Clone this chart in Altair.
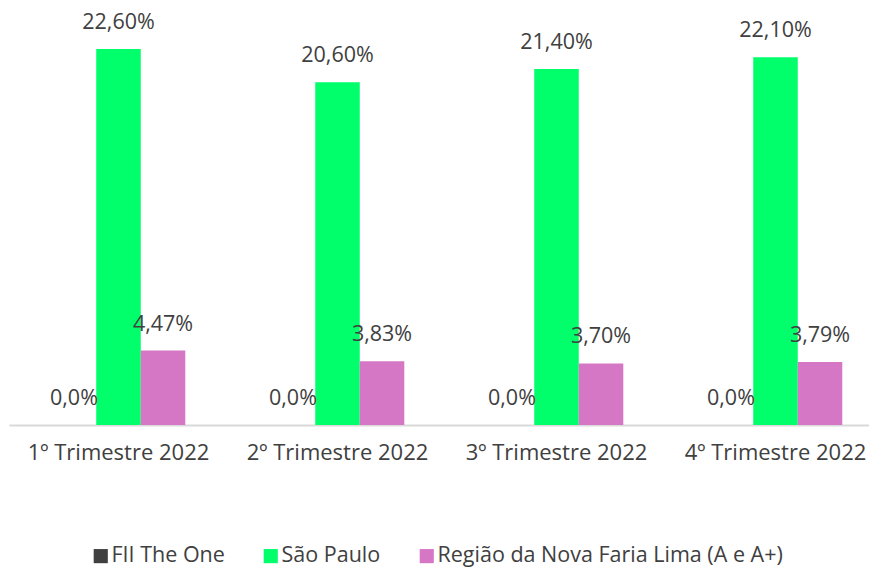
import altair as alt
import pandas as pd

quarters = ["1º Trimestre 2022", "2º Trimestre 2022", "3º Trimestre 2022", "4º Trimestre 2022"]
series = ["FII The One", "São Paulo", "Região da Nova Faria Lima (A e A+)"]
colors = ["#404040", "#00FF6B", "#D677C6"]
fii = [0.0, 0.0, 0.0, 0.0]
sp = [22.60, 20.60, 21.40, 22.10]
nfl = [4.47, 3.83, 3.70, 3.79]
fii_lbl = ["0,0%", "0,0%", "0,0%", "0,0%"]
sp_lbl = ["22,60%", "20,60%", "21,40%", "22,10%"]
nfl_lbl = ["4,47%", "3,83%", "3,70%", "3,79%"]

rows = []
for vals, lbls, s in [(fii, fii_lbl, series[0]), (sp, sp_lbl, series[1]), (nfl, nfl_lbl, series[2])]:
    for q, v, l in zip(quarters, vals, lbls):
        rows.append({"quarter": q, "series": s, "value": v, "label": l})
df = pd.DataFrame(rows)

FONT = "Open Sans"
x = alt.X("quarter:N", sort=quarters, title=None,
          scale=alt.Scale(paddingInner=0.39, paddingOuter=0.195, range=[1, 877]),
          axis=alt.Axis(labelAngle=0, ticks=False, domainColor="#D9D9D9", domainWidth=2,
                        labelFontSize=22, labelColor="#404040", labelFont=FONT,
                        labelPadding=17, labelLimit=400, grid=False))
xo = alt.XOffset("series:N", sort=series, scale=alt.Scale(paddingInner=0, paddingOuter=0))
y = alt.Y("value:Q", scale=alt.Scale(domain=[0, 24.7], nice=False), axis=None)

bars = alt.Chart(df).mark_bar().encode(
    x=x, xOffset=xo, y=y,
    color=alt.Color("series:N", sort=series,
                    scale=alt.Scale(domain=series, range=colors),
                    legend=alt.Legend(title=None, orient="none", direction="horizontal",
                                      legendX=82, legendY=531, symbolType="square",
                                      symbolSize=200, symbolStrokeWidth=0,
                                      labelFontSize=21.5, labelColor="#404040", labelFont=FONT,
                                      labelLimit=500,
                                      columnPadding=35, symbolOffset=0, labelOffset=0)),
)

text = alt.Chart(df).mark_text(baseline="alphabetic", dy=-20, fontSize=21.5,
                               color="#404040", font=FONT).encode(
    x=x, xOffset=xo, y=y, text="label:N")

chart = (bars + text).properties(
    width=861, height=411,
    padding={"left": 0, "top": 6, "right": 0, "bottom": 142},
    autosize=alt.AutoSizeParams(type="none"),
).configure_view(stroke=None)
chart.save("out.html", embed_options={"renderer": "svg", "actions": False})
